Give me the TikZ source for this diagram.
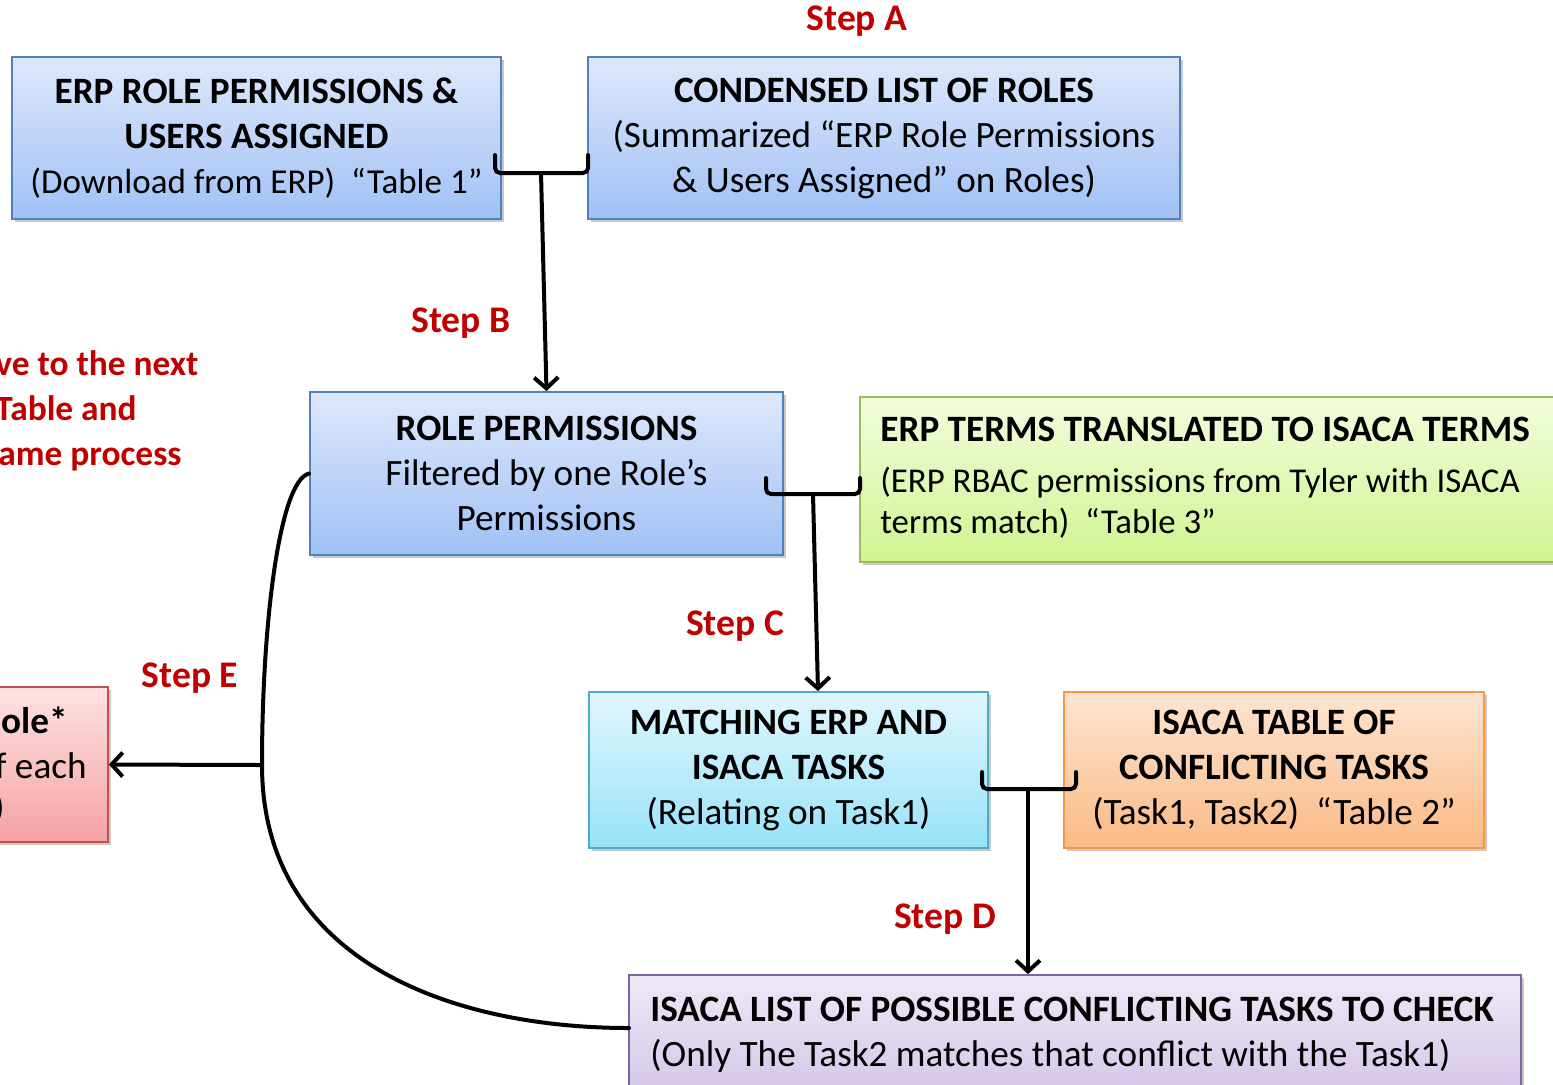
\documentclass[tikz,border=0pt]{standalone}
\usepackage{fontspec}
\setmainfont{Carlito}
\usetikzlibrary{arrows.meta,shadows,calc}
\definecolor{stepred}{RGB}{192,0,0}
\definecolor{bluetop}{RGB}{222,232,252}
\definecolor{bluebot}{RGB}{160,193,245}
\definecolor{blueln}{RGB}{79,129,189}
\definecolor{greentop}{RGB}{242,252,220}
\definecolor{greenbot}{RGB}{208,244,145}
\definecolor{greenln}{RGB}{155,187,89}
\definecolor{cyantop}{RGB}{224,246,253}
\definecolor{cyanbot}{RGB}{152,227,249}
\definecolor{cyanln}{RGB}{75,172,198}
\definecolor{orgtop}{RGB}{253,229,208}
\definecolor{orgbot}{RGB}{250,186,134}
\definecolor{orgln}{RGB}{247,150,70}
\definecolor{purtop}{RGB}{238,232,246}
\definecolor{purbot}{RGB}{206,190,230}
\definecolor{purln}{RGB}{128,100,162}
\definecolor{redtop}{RGB}{253,226,226}
\definecolor{redbot}{RGB}{246,162,162}
\definecolor{redln}{RGB}{192,80,77}
\begin{document}
\begin{tikzpicture}[x=0.5pt,y=-0.5pt,
  txt/.style={font=\fontsize{18.6}{22.5}\selectfont, inner sep=0pt},
  box/.style={draw, line width=0.9pt, rectangle, inner sep=0pt,
    drop shadow={shadow xshift=1.5pt,shadow yshift=-1.5pt,opacity=0.3,fill=black!70},
    align=center, font=\fontsize{18.6}{22.5}\selectfont},
  bluebox/.style={box, draw=blueln, top color=bluetop, bottom color=bluebot},
  steplbl/.style={font=\fontsize{18.8}{22.5}\selectfont\bfseries, text=stepred, inner sep=0pt},
  notelbl/.style={font=\fontsize{17.7}{22.5}\selectfont\bfseries, text=stepred, inner sep=0pt, anchor=base west},
  conn/.style={line width=2pt, line cap=round},
  brk/.style={conn, rounded corners=2.5pt},
  arr/.style={conn, -{Straight Barb[length=5.5pt,width=12pt]}},
]
\useasboundingbox (0,0) rectangle (1553,1084);

% boxes
\node[bluebox, minimum width=244.5pt, minimum height=81pt] (b1) at (256.5,138)
  {\textbf{ERP ROLE PERMISSIONS \&}\\ \textbf{USERS ASSIGNED}\\ {\fontsize{17.5}{22.5}\selectfont (Download from ERP)\ \ “Table 1”}};
\node[bluebox, minimum width=296pt, minimum height=81pt] (b2) at (884,138)
  {\textbf{CONDENSED LIST OF ROLES}\\ (Summarized “ERP Role Permissions\\ \& Users Assigned” on Roles)};
\node[bluebox, minimum width=236.5pt, minimum height=81.5pt] (b3) at (546.5,473.5)
  {\textbf{ROLE PERMISSIONS}\\ Filtered by one Role’s\\ Permissions};
\node[box, draw=greenln, top color=greentop, bottom color=greenbot, minimum width=360pt, minimum height=82.5pt] (b4) at (1220,479.5) {};
\node[anchor=west, align=left, inner sep=0pt, font=\fontsize{17.4}{20.5}\selectfont] (t4) at (880,478)
  {{\fontsize{18.6}{22.5}\selectfont\textbf{ERP TERMS TRANSLATED TO ISACA TERMS}}\\[5pt] (ERP RBAC permissions from Tyler with ISACA\\ terms match)\ \ “Table 3”};
\node[box, draw=cyanln, top color=cyantop, bottom color=cyanbot, minimum width=199.5pt, minimum height=78pt] (b5) at (788.5,770)
  {\textbf{MATCHING ERP AND}\\ \textbf{ISACA TASKS}\\ (Relating on Task1)};
\node[box, draw=orgln, top color=orgtop, bottom color=orgbot, minimum width=210pt, minimum height=78pt] (b6) at (1274,770)
  {\textbf{ISACA TABLE OF}\\ \textbf{CONFLICTING TASKS}\\ (Task1, Task2)\ \ “Table 2”};
\node[box, draw=purln, top color=purtop, bottom color=purbot, minimum width=446pt, minimum height=75pt] (b7) at (1075,1050) {};
\node[txt, anchor=west, align=left] (t7) at (650,1035)
  {\textbf{ISACA LIST OF POSSIBLE CONFLICTING TASKS TO CHECK}\\ (Only The Task2 matches that conflict with the Task1)};
\node[box, draw=redln, top color=redtop, bottom color=redbot, minimum width=200pt, minimum height=77.5pt] (b8) at (-92,764.5) {};
\node[txt, anchor=east] (t8a) at (68,720) {\textbf{ole*}};
\node[txt, anchor=east] (t8b) at (87,766) {f each};
\node[txt, anchor=east] (t8c) at (5,808) {)};

% left red note
\node[notelbl] (n1) at (-5,375) {ve to the next};
\node[notelbl] (n2) at (-5,420) {Table and};
\node[notelbl] (n3) at (-2,465) {ame process};

% step labels
\node[steplbl] (sa) at (857,21) {Step A};
\node[steplbl] (sb) at (461,323) {Step B};
\node[steplbl] (sc) at (735,626) {Step C};
\node[steplbl] (sd) at (945,919) {Step D};
\node[steplbl] (se) at (190,678) {Step E};

% bracket A
\coordinate (a1) at (495,155);
\coordinate (a2) at (588,155);
\coordinate (am) at (541,173);
\draw[brk] (a1) -- (495,173) -- (588,173) -- (a2);
\draw[arr] (am) -- (b3.north);

% bracket C
\coordinate (c1) at (766,478);
\coordinate (c2) at (860,478);
\coordinate (cm) at (813,494);
\draw[brk] (c1) -- (766,494) -- (860,494) -- (c2);
\draw[arr] (cm) -- (818,0 |- b5.north);

% bracket D
\coordinate (d1) at (982,772);
\coordinate (d2) at (1076,772);
\coordinate (dm) at (1028,789);
\draw[brk] (d1) -- (982,789) -- (1076,789) -- (d2);
\draw[arr] (dm) -- (1028,0 |- b7.north);

% curve E
\coordinate (e) at (262,765);
\coordinate (e7) at (629,1028);
\draw[conn] (b3.west) .. controls (280,480) and (262,620) .. (e)
  .. controls (262,960) and (450,1028) .. (e7);
\draw[arr] (e) -- (b8.east);
\end{tikzpicture}
\end{document}
